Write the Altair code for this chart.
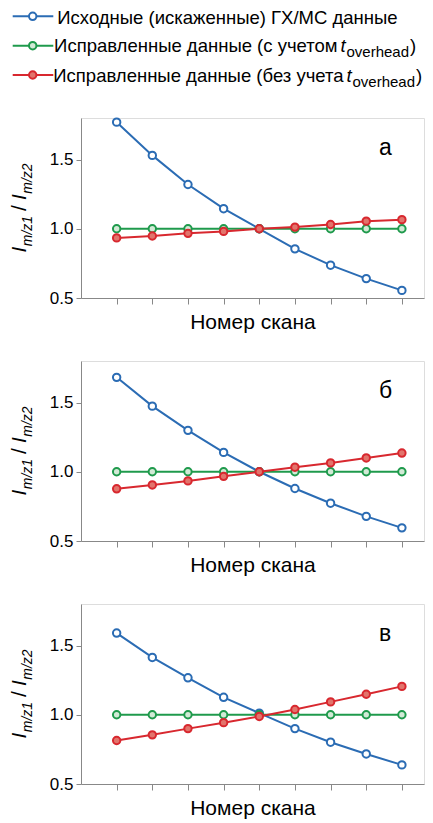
import altair as alt
import pandas as pd

# ---------------- data ----------------
scan = list(range(1, 10))
panel_letters = ["а", "б", "в"]

raw_a = [1.77, 1.53, 1.32, 1.145, 1.0, 0.855, 0.737, 0.64, 0.555]
corr_a = [1.0, 1.0, 1.0, 1.0, 1.0, 1.0, 1.0, 1.0, 1.0]
nocorr_a = [0.934, 0.948, 0.967, 0.981, 1.0, 1.012, 1.031, 1.055, 1.066]

raw_b = [1.682, 1.474, 1.299, 1.14, 1.0, 0.879, 0.773, 0.678, 0.595]
corr_b = [1.0, 1.0, 1.0, 1.0, 1.0, 1.0, 1.0, 1.0, 1.0]
nocorr_b = [0.877, 0.905, 0.934, 0.967, 1.0, 1.033, 1.064, 1.10, 1.135]

raw_c = [1.59, 1.414, 1.267, 1.126, 1.012, 0.90, 0.802, 0.717, 0.638]
corr_c = [1.0, 1.0, 1.0, 1.0, 1.0, 1.0, 1.0, 1.0, 1.0]
nocorr_c = [0.814, 0.855, 0.90, 0.943, 0.988, 1.038, 1.093, 1.148, 1.205]

legend_main = [
    "Исходные (искаженные) ГХ/МС данные",
    "Исправленные данные (с учетом",
    "Исправленные данные (без учета",
]
legend_sub = "overhead"
y_ticks = [0.5, 1.0, 1.5]
x_title = "Номер скана"

# ---------------- style ----------------
FONT = "Liberation Sans"
BLUE, GREEN, RED = "#2b6cb4", "#1f9a4c", "#d8282f"
STYLE = {"raw": (BLUE, "#ffffff"), "corr": (GREEN, "#d2ead6"), "nocorr": (RED, "#e2746c")}
W, H = 343, 180

xscale = alt.Scale(domain=[0, 9.62], nice=False, zero=False)
yscale = alt.Scale(domain=[0.5, 1.8], nice=False, zero=False)
xaxis = alt.Axis(values=scan, labels=False, ticks=True, tickSize=6, grid=False,
                 title=x_title, titleFontSize=21, titleFontWeight="normal",
                 titleFont=FONT, titlePadding=6.5, titleColor="black")
yaxis = alt.Axis(values=y_ticks, format=".1f", tickSize=5, labelPadding=3,
                 labelFontSize=17, labelFont=FONT, labelColor="black", grid=False)

one = pd.DataFrame({"k": [0]})


def series_layers(vals, key):
    df = pd.DataFrame({"scan": scan, "ratio": vals})
    stroke, fill = STYLE[key]
    enc = dict(x=alt.X("scan:Q", scale=xscale, axis=xaxis, title=x_title),
               y=alt.Y("ratio:Q", scale=yscale, axis=yaxis, title=None))
    line = alt.Chart(df).mark_line(color=stroke, strokeWidth=2).encode(**enc)
    pts = alt.Chart(df).mark_point(shape="circle", size=55, filled=True, fill=fill,
                                   stroke=stroke, strokeWidth=2, opacity=1).encode(**enc)
    return [line, pts]


def text_at(txt, x, y, size, style="normal", angle=0, align="left"):
    kw = dict(font=FONT, fontSize=size, fontStyle=style, color="black",
              align=align, baseline="alphabetic")
    if angle:
        kw["angle"] = angle
    return alt.Chart(one).mark_text(**kw).encode(
        x=alt.value(x), y=alt.value(y), text=alt.value(txt))


# width factors (Arial metrics) for the rotated y title
WF = {"I": 0.278, "m": 0.833, "/": 0.278, "z": 0.5, "1": 0.556, "2": 0.556}


def y_title_layers():
    MAIN, SUB = 21, 14
    # (text, size, style, baseline shift, gap after)
    pieces = [("I", MAIN, "italic", 0, 0.5), ("m/z1", SUB, "italic", 5.5, 5),
              ("/", MAIN, "normal", 0, 5), ("I", MAIN, "italic", 0, 0.5),
              ("m/z2", SUB, "italic", 5.5, 0)]
    widths = [sum(WF[c] for c in t) * s + g for t, s, _, _, g in pieces]
    total = sum(widths)
    cur = H / 2 + total / 2
    base_x = -55
    out = []
    for (t, s, st, sh, g), w in zip(pieces, widths):
        out.append(text_at(t, base_x + sh, cur, s, st, angle=270))
        cur -= w
    return out


def legend_layers():
    out = []
    rows_line = [-101.7, -72.3, -43.0]
    rows_text = [-94.0, -65.7, -36.3]
    keys = ["raw", "corr", "nocorr"]
    main_end = [None, 256.5, 262.5]
    for i, key in enumerate(keys):
        stroke, fill = STYLE[key]
        out.append(alt.Chart(one).mark_rule(color=stroke, strokeWidth=2).encode(
            x=alt.value(-68.3), x2=alt.value(-27.7), y=alt.value(rows_line[i])))
        out.append(alt.Chart(one).mark_point(shape="circle", size=55, filled=True, fill=fill,
                                             stroke=stroke, strokeWidth=2, opacity=1).encode(
            x=alt.value(-48.3), y=alt.value(rows_line[i])))
        if main_end[i] is None:
            out.append(text_at(legend_main[i], -23.7, rows_text[i], 18.5))
        else:
            end = main_end[i]
            out.append(text_at(legend_main[i], end, rows_text[i], 18.5, align="right"))
            out.append(text_at("t", end + 3, rows_text[i], 18.5, "italic"))
            out.append(text_at(legend_sub, end + 9, rows_text[i] + 5, 15))
            out.append(text_at(")", end + 72.5, rows_text[i], 18.5))
    return out


def panel(raw, corr, nocorr, letter, with_legend=False):
    layers = []
    layers += series_layers(raw, "raw")
    layers += series_layers(corr, "corr")
    layers += series_layers(nocorr, "nocorr")
    layers.append(text_at(letter, 298, 37, 23))
    layers += y_title_layers()
    if with_legend:
        layers += legend_layers()
    return alt.layer(*layers).properties(width=W, height=H)


chart = alt.vconcat(
    panel(raw_a, corr_a, nocorr_a, panel_letters[0], with_legend=True),
    panel(raw_b, corr_b, nocorr_b, panel_letters[1]),
    panel(raw_c, corr_c, nocorr_c, panel_letters[2]),
    spacing=27,
).properties(
    padding={"left": 0, "top": 0, "right": 0, "bottom": 0}
).configure_view(stroke=None).configure_axis(
    domainColor="black", domainWidth=2, tickColor="black", tickWidth=1.5,
    labelFont=FONT, titleFont=FONT
).configure(background="white")

chart.save("out.html", embed_options={"renderer": "svg", "actions": False})
